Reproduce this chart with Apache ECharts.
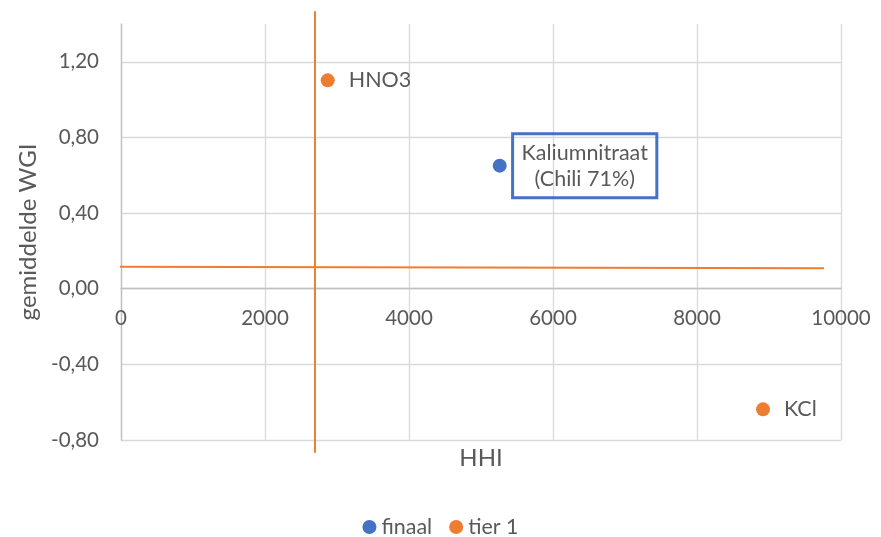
<!DOCTYPE html>
<html>
<head>
<meta charset="utf-8">
<script src="https://cdn.jsdelivr.net/npm/echarts@6/dist/echarts.min.js"></script>
<style>
html,body{margin:0;padding:0;background:#fff;}
#chart{width:881px;height:537px;}
</style>
</head>
<body>
<div id="chart"></div>
<script>
// Data
const finaalX = [5260];
const finaalY = [0.651];
const finaalLabels = ['Kaliumnitraat\n(Chili 71%)'];

const tier1X = [2871, 8917];
const tier1Y = [1.102, -0.638];
const tier1Labels = ['HNO3', 'KCl'];

const vLineX = [2694, 2694];
const vLineY = [1.467, -0.868];
const hLineX = [-222, 9764];
const hLineY = [0.117, 0.108];

const xMin = 0, xMax = 10000, xInterval = 2000;
const yMin = -0.8, yMax = 1.4, yInterval = 0.4;

const legendNames = ['finaal', 'tier 1'];
const xName = 'HHI';
const yName = 'gemiddelde WGI';

const BLUE = '#4472C4', ORANGE = '#ED7D31', TXT = '#595959';
const FONT = 'Lato';
const FS_TICK = 20.5;
const FS_LBL = 21.5;
const FS_NAME = 24;

const GRID = {left: 121, right: 40, top: 24, bottom: 97};
const plotH = 537 - GRID.top - GRID.bottom;
// move the x axis (line + labels) up to y = 0, as in the reference
const zeroOffset = -plotH * (0 - yMin) / (yMax - yMin);

function pairs(xs, ys) { return xs.map((x, i) => [x, ys[i]]); }

const chart = echarts.init(document.getElementById('chart'), null, {renderer: 'canvas'});
chart.setOption({
  animation: false,
  textStyle: {fontFamily: FONT, color: TXT},
  grid: Object.assign({containLabel: false, outerBoundsMode: 'none'}, GRID),
  legend: {
    data: legendNames.map(n => ({name: n, icon: 'circle'})),
    top: 516, left: 'center', padding: 0,
    itemWidth: 14, itemHeight: 14, itemGap: 17,
    textStyle: {fontFamily: FONT, fontSize: FS_LBL, color: TXT}
  },
  xAxis: {
    type: 'value', min: xMin, max: xMax, interval: xInterval,
    offset: zeroOffset,
    name: xName, nameLocation: 'middle', nameGap: 158,
    nameTextStyle: {fontFamily: FONT, fontSize: FS_NAME, color: TXT},
    axisLine: {show: true, onZero: false, lineStyle: {color: '#bfbfbf', width: 1.3}},
    axisTick: {show: false},
    axisLabel: {margin: 19, fontFamily: FONT, fontSize: FS_TICK, color: TXT,
      formatter: v => String(v)},
    splitLine: {show: true, lineStyle: {color: '#d9d9d9', width: 1.3}}
  },
  yAxis: {
    type: 'value', min: yMin, max: yMax, interval: yInterval,
    name: yName, nameLocation: 'middle', nameGap: 74,
    nameTextStyle: {fontFamily: FONT, fontSize: FS_NAME, color: TXT},
    axisLine: {show: true, onZero: false, lineStyle: {color: '#bfbfbf', width: 1.3}},
    axisTick: {show: false},
    axisLabel: {
      margin: 22, fontFamily: FONT, fontSize: FS_TICK, color: TXT,
      showMaxLabel: false,
      formatter: v => v.toFixed(2).replace('.', ',')
    },
    splitLine: {show: true, showMaxLine: false, lineStyle: {color: '#d9d9d9', width: 1.3}}
  },
  series: [
    {
      name: 'tier 1 verticaal', type: 'line', data: pairs(vLineX, vLineY),
      clip: false, symbol: 'none', silent: true,
      lineStyle: {color: ORANGE, width: 2}, z: 3
    },
    {
      name: 'tier 1 horizontaal', type: 'line', data: pairs(hLineX, hLineY),
      clip: false, symbol: 'none', silent: true,
      lineStyle: {color: ORANGE, width: 2}, z: 3
    },
    {
      name: 'finaal', type: 'scatter', symbolSize: 14,
      itemStyle: {color: BLUE, opacity: 1},
      data: pairs(finaalX, finaalY),
      label: {
        show: true,
        formatter: p => finaalLabels[p.dataIndex],
        position: [92, 7], align: 'center', verticalAlign: 'middle',
        fontFamily: FONT, fontSize: FS_LBL, color: TXT, lineHeight: 26,
        borderColor: BLUE, borderWidth: 1.5, padding: [6, 9],
        backgroundColor: 'transparent'
      },
      z: 5
    },
    {
      name: 'tier 1', type: 'scatter', symbolSize: 14,
      itemStyle: {color: ORANGE, opacity: 1},
      data: pairs(tier1X, tier1Y),
      label: {
        show: true,
        formatter: p => tier1Labels[p.dataIndex],
        position: 'right', distance: 14,
        fontFamily: FONT, fontSize: FS_LBL, color: TXT
      },
      z: 5
    }
  ]
});
</script>
</body>
</html>
